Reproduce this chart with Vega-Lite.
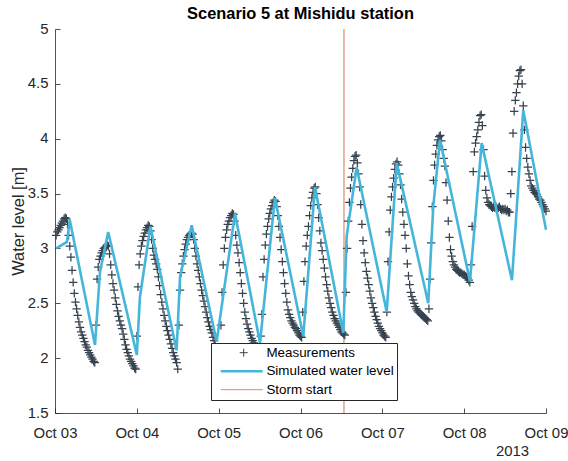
{
"$schema": "https://vega.github.io/schema/vega-lite/v6.json",
"width": 491, "height": 384,
"autosize": {"type": "none"},
"padding": {"left": 55, "top": 29, "right": 22, "bottom": 48},
"background": "white",
"config": {"view": {"stroke": null}, "font": "Liberation Sans"},
"title": {"text": "Scenario 5 at Mishidu station", "fontSize": 16.4, "fontWeight": "bold", "color": "#000000", "font": "Liberation Sans", "offset": -1, "anchor": "middle"},
"datasets": {
"storm": [{"t": "2013-10-06T12:45"}],
"sim": [
{"t":"2013-10-03T00:20","v":3.00},{"t":"2013-10-03T03:30","v":3.06},{"t":"2013-10-03T04:20","v":3.26},{"t":"2013-10-03T11:44","v":2.12},{"t":"2013-10-03T13:10","v":2.78},{"t":"2013-10-03T15:36","v":3.15},
{"t":"2013-10-04T00:00","v":2.03},{"t":"2013-10-04T00:55","v":2.56},{"t":"2013-10-04T04:00","v":3.20},{"t":"2013-10-04T11:40","v":2.07},{"t":"2013-10-04T12:40","v":2.74},{"t":"2013-10-04T16:05","v":3.21},{"t":"2013-10-04T23:25","v":2.15},
{"t":"2013-10-05T04:47","v":3.32},{"t":"2013-10-05T12:07","v":2.14},{"t":"2013-10-05T16:30","v":3.46},
{"t":"2013-10-06T00:49","v":2.20},{"t":"2013-10-06T04:15","v":3.56},{"t":"2013-10-06T12:33","v":2.23},{"t":"2013-10-06T13:32","v":3.11},{"t":"2013-10-06T16:28","v":3.74},
{"t":"2013-10-07T01:17","v":2.42},{"t":"2013-10-07T04:13","v":3.78},{"t":"2013-10-07T13:28","v":2.50},{"t":"2013-10-07T14:56","v":3.38},{"t":"2013-10-07T16:54","v":3.99},
{"t":"2013-10-08T01:42","v":2.70},{"t":"2013-10-08T05:08","v":3.96},{"t":"2013-10-08T14:01","v":2.71},{"t":"2013-10-08T17:20","v":4.26},
{"t":"2013-10-09T00:00","v":3.17}
],
"meas": [
{"t":"2013-10-03T00:20","v":3.12},{"t":"2013-10-03T00:40","v":3.15},
{"t":"2013-10-03T01:00","v":3.17},{"t":"2013-10-03T01:20","v":3.19},{"t":"2013-10-03T01:40","v":3.21},
{"t":"2013-10-03T02:00","v":3.23},{"t":"2013-10-03T02:20","v":3.25},{"t":"2013-10-03T02:40","v":3.27},
{"t":"2013-10-03T03:00","v":3.28},{"t":"2013-10-03T03:20","v":3.27},{"t":"2013-10-03T03:40","v":3.22},
{"t":"2013-10-03T04:00","v":3.12},{"t":"2013-10-03T04:20","v":3.02},{"t":"2013-10-03T04:40","v":2.92},
{"t":"2013-10-03T05:00","v":2.80},{"t":"2013-10-03T05:20","v":2.69},{"t":"2013-10-03T05:40","v":2.59},
{"t":"2013-10-03T06:00","v":2.51},{"t":"2013-10-03T06:20","v":2.45},{"t":"2013-10-03T06:40","v":2.39},
{"t":"2013-10-03T07:00","v":2.33},{"t":"2013-10-03T07:20","v":2.28},{"t":"2013-10-03T07:40","v":2.24},
{"t":"2013-10-03T08:00","v":2.21},{"t":"2013-10-03T08:20","v":2.18},{"t":"2013-10-03T08:40","v":2.15},
{"t":"2013-10-03T09:00","v":2.12},{"t":"2013-10-03T09:20","v":2.10},{"t":"2013-10-03T09:40","v":2.07},
{"t":"2013-10-03T10:00","v":2.05},{"t":"2013-10-03T10:20","v":2.03},{"t":"2013-10-03T10:40","v":2.01},
{"t":"2013-10-03T11:00","v":1.99},{"t":"2013-10-03T11:20","v":1.97},{"t":"2013-10-03T11:40","v":1.96},
{"t":"2013-10-03T12:00","v":2.30},{"t":"2013-10-03T12:20","v":2.72},{"t":"2013-10-03T12:40","v":2.83},
{"t":"2013-10-03T13:00","v":2.90},{"t":"2013-10-03T13:20","v":2.93},{"t":"2013-10-03T13:40","v":2.96},
{"t":"2013-10-03T14:00","v":2.98},{"t":"2013-10-03T14:20","v":3.00},{"t":"2013-10-03T14:40","v":3.01},
{"t":"2013-10-03T15:00","v":3.02},{"t":"2013-10-03T15:20","v":3.03},{"t":"2013-10-03T15:40","v":3.02},
{"t":"2013-10-03T16:00","v":2.95},{"t":"2013-10-03T16:20","v":2.85},{"t":"2013-10-03T16:40","v":2.76},
{"t":"2013-10-03T17:00","v":2.68},{"t":"2013-10-03T17:20","v":2.62},{"t":"2013-10-03T17:40","v":2.55},
{"t":"2013-10-03T18:00","v":2.49},{"t":"2013-10-03T18:20","v":2.43},{"t":"2013-10-03T18:40","v":2.38},
{"t":"2013-10-03T19:00","v":2.34},{"t":"2013-10-03T19:20","v":2.30},{"t":"2013-10-03T19:40","v":2.27},
{"t":"2013-10-03T20:00","v":2.22},{"t":"2013-10-03T20:20","v":2.17},{"t":"2013-10-03T20:40","v":2.12},
{"t":"2013-10-03T21:00","v":2.08},{"t":"2013-10-03T21:20","v":2.05},{"t":"2013-10-03T21:40","v":2.02},
{"t":"2013-10-03T22:00","v":1.99},{"t":"2013-10-03T22:20","v":1.97},{"t":"2013-10-03T22:40","v":1.95},
{"t":"2013-10-03T23:00","v":1.93},{"t":"2013-10-03T23:20","v":1.91},{"t":"2013-10-03T23:40","v":1.90},
{"t":"2013-10-04T00:00","v":2.20},{"t":"2013-10-04T00:20","v":2.65},{"t":"2013-10-04T00:40","v":2.85},
{"t":"2013-10-04T01:00","v":2.95},{"t":"2013-10-04T01:20","v":3.02},{"t":"2013-10-04T01:40","v":3.07},
{"t":"2013-10-04T02:00","v":3.11},{"t":"2013-10-04T02:20","v":3.14},{"t":"2013-10-04T02:40","v":3.17},
{"t":"2013-10-04T03:00","v":3.19},{"t":"2013-10-04T03:20","v":3.21},{"t":"2013-10-04T03:40","v":3.20},
{"t":"2013-10-04T04:00","v":3.16},{"t":"2013-10-04T04:20","v":3.08},{"t":"2013-10-04T04:40","v":3.00},
{"t":"2013-10-04T05:00","v":2.94},{"t":"2013-10-04T05:20","v":2.90},{"t":"2013-10-04T05:40","v":2.86},
{"t":"2013-10-04T06:00","v":2.81},{"t":"2013-10-04T06:20","v":2.74},{"t":"2013-10-04T06:40","v":2.66},
{"t":"2013-10-04T07:00","v":2.58},{"t":"2013-10-04T07:20","v":2.51},{"t":"2013-10-04T07:40","v":2.45},
{"t":"2013-10-04T08:00","v":2.39},{"t":"2013-10-04T08:20","v":2.34},{"t":"2013-10-04T08:40","v":2.29},
{"t":"2013-10-04T09:00","v":2.25},{"t":"2013-10-04T09:20","v":2.21},{"t":"2013-10-04T09:40","v":2.17},
{"t":"2013-10-04T10:00","v":2.13},{"t":"2013-10-04T10:20","v":2.09},{"t":"2013-10-04T10:40","v":2.05},
{"t":"2013-10-04T11:00","v":2.02},{"t":"2013-10-04T11:20","v":1.99},{"t":"2013-10-04T11:40","v":1.96},
{"t":"2013-10-04T12:00","v":1.90},{"t":"2013-10-04T12:20","v":2.30},{"t":"2013-10-04T12:40","v":2.62},
{"t":"2013-10-04T13:00","v":2.78},{"t":"2013-10-04T13:20","v":2.86},{"t":"2013-10-04T13:40","v":2.93},
{"t":"2013-10-04T14:00","v":2.99},{"t":"2013-10-04T14:20","v":3.04},{"t":"2013-10-04T14:40","v":3.08},
{"t":"2013-10-04T15:00","v":3.10},{"t":"2013-10-04T15:20","v":3.12},{"t":"2013-10-04T15:40","v":3.13},
{"t":"2013-10-04T16:00","v":3.14},{"t":"2013-10-04T16:20","v":3.13},{"t":"2013-10-04T16:40","v":3.08},
{"t":"2013-10-04T17:00","v":3.00},{"t":"2013-10-04T17:20","v":2.93},{"t":"2013-10-04T17:40","v":2.86},
{"t":"2013-10-04T18:00","v":2.80},{"t":"2013-10-04T18:20","v":2.74},{"t":"2013-10-04T18:40","v":2.68},
{"t":"2013-10-04T19:00","v":2.62},{"t":"2013-10-04T19:20","v":2.57},{"t":"2013-10-04T19:40","v":2.52},
{"t":"2013-10-04T20:00","v":2.47},{"t":"2013-10-04T20:20","v":2.42},{"t":"2013-10-04T20:40","v":2.37},
{"t":"2013-10-04T21:00","v":2.33},{"t":"2013-10-04T21:20","v":2.29},{"t":"2013-10-04T21:40","v":2.26},
{"t":"2013-10-04T22:00","v":2.23},{"t":"2013-10-04T22:20","v":2.19},{"t":"2013-10-04T22:40","v":2.16},
{"t":"2013-10-04T23:00","v":2.13},{"t":"2013-10-04T23:20","v":2.10},{"t":"2013-10-04T23:40","v":2.07},
{"t":"2013-10-05T00:00","v":2.05},{"t":"2013-10-05T00:20","v":2.03},{"t":"2013-10-05T00:40","v":2.30},
{"t":"2013-10-05T01:00","v":2.60},{"t":"2013-10-05T01:20","v":2.85},{"t":"2013-10-05T01:40","v":3.00},
{"t":"2013-10-05T02:00","v":3.10},{"t":"2013-10-05T02:20","v":3.17},{"t":"2013-10-05T02:40","v":3.22},
{"t":"2013-10-05T03:00","v":3.25},{"t":"2013-10-05T03:20","v":3.28},{"t":"2013-10-05T03:40","v":3.30},
{"t":"2013-10-05T04:00","v":3.32},{"t":"2013-10-05T04:20","v":3.31},{"t":"2013-10-05T04:40","v":3.25},
{"t":"2013-10-05T05:00","v":3.12},{"t":"2013-10-05T05:20","v":3.03},{"t":"2013-10-05T05:40","v":2.96},
{"t":"2013-10-05T06:00","v":2.87},{"t":"2013-10-05T06:20","v":2.78},{"t":"2013-10-05T06:40","v":2.68},
{"t":"2013-10-05T07:00","v":2.59},{"t":"2013-10-05T07:20","v":2.50},{"t":"2013-10-05T07:40","v":2.42},
{"t":"2013-10-05T08:00","v":2.36},{"t":"2013-10-05T08:20","v":2.31},{"t":"2013-10-05T08:40","v":2.27},
{"t":"2013-10-05T09:00","v":2.24},{"t":"2013-10-05T09:20","v":2.21},{"t":"2013-10-05T09:40","v":2.18},
{"t":"2013-10-05T10:00","v":2.16},{"t":"2013-10-05T10:20","v":2.14},{"t":"2013-10-05T10:40","v":2.12},
{"t":"2013-10-05T11:00","v":2.10},{"t":"2013-10-05T11:20","v":2.08},{"t":"2013-10-05T11:40","v":2.07},
{"t":"2013-10-05T12:00","v":2.06},{"t":"2013-10-05T12:20","v":2.20},{"t":"2013-10-05T12:40","v":2.40},
{"t":"2013-10-05T13:00","v":2.74},{"t":"2013-10-05T13:20","v":2.90},{"t":"2013-10-05T13:40","v":3.03},
{"t":"2013-10-05T14:00","v":3.13},{"t":"2013-10-05T14:20","v":3.20},{"t":"2013-10-05T14:40","v":3.27},
{"t":"2013-10-05T15:00","v":3.32},{"t":"2013-10-05T15:20","v":3.36},{"t":"2013-10-05T15:40","v":3.39},
{"t":"2013-10-05T16:00","v":3.42},{"t":"2013-10-05T16:20","v":3.44},{"t":"2013-10-05T16:40","v":3.43},
{"t":"2013-10-05T17:00","v":3.38},{"t":"2013-10-05T17:20","v":3.30},{"t":"2013-10-05T17:40","v":3.20},
{"t":"2013-10-05T18:00","v":3.10},{"t":"2013-10-05T18:20","v":2.99},{"t":"2013-10-05T18:40","v":2.88},
{"t":"2013-10-05T19:00","v":2.78},{"t":"2013-10-05T19:20","v":2.68},{"t":"2013-10-05T19:40","v":2.59},
{"t":"2013-10-05T20:00","v":2.51},{"t":"2013-10-05T20:20","v":2.44},{"t":"2013-10-05T20:40","v":2.40},
{"t":"2013-10-05T21:00","v":2.37},{"t":"2013-10-05T21:20","v":2.34},{"t":"2013-10-05T21:40","v":2.32},
{"t":"2013-10-05T22:00","v":2.30},{"t":"2013-10-05T22:20","v":2.28},{"t":"2013-10-05T22:40","v":2.27},
{"t":"2013-10-05T23:00","v":2.25},{"t":"2013-10-05T23:20","v":2.23},{"t":"2013-10-05T23:40","v":2.21},
{"t":"2013-10-06T00:00","v":2.20},{"t":"2013-10-06T00:20","v":2.19},{"t":"2013-10-06T00:40","v":2.42},
{"t":"2013-10-06T01:00","v":2.70},{"t":"2013-10-06T01:20","v":2.88},{"t":"2013-10-06T01:40","v":3.02},
{"t":"2013-10-06T02:00","v":3.12},{"t":"2013-10-06T02:20","v":3.20},{"t":"2013-10-06T02:40","v":3.30},
{"t":"2013-10-06T03:00","v":3.39},{"t":"2013-10-06T03:20","v":3.46},{"t":"2013-10-06T03:40","v":3.51},
{"t":"2013-10-06T04:00","v":3.55},{"t":"2013-10-06T04:20","v":3.56},{"t":"2013-10-06T04:40","v":3.50},
{"t":"2013-10-06T05:00","v":3.40},{"t":"2013-10-06T05:20","v":3.28},{"t":"2013-10-06T05:40","v":3.16},
{"t":"2013-10-06T06:00","v":3.05},{"t":"2013-10-06T06:20","v":2.98},{"t":"2013-10-06T06:40","v":2.90},
{"t":"2013-10-06T07:00","v":2.82},{"t":"2013-10-06T07:20","v":2.74},{"t":"2013-10-06T07:40","v":2.67},
{"t":"2013-10-06T08:00","v":2.61},{"t":"2013-10-06T08:20","v":2.55},{"t":"2013-10-06T08:40","v":2.50},
{"t":"2013-10-06T09:00","v":2.46},{"t":"2013-10-06T09:20","v":2.42},{"t":"2013-10-06T09:40","v":2.39},
{"t":"2013-10-06T10:00","v":2.36},{"t":"2013-10-06T10:20","v":2.34},{"t":"2013-10-06T10:40","v":2.32},
{"t":"2013-10-06T11:00","v":2.30},{"t":"2013-10-06T11:20","v":2.28},{"t":"2013-10-06T11:40","v":2.26},
{"t":"2013-10-06T12:00","v":2.24},{"t":"2013-10-06T12:20","v":2.23},{"t":"2013-10-06T12:40","v":2.22},
{"t":"2013-10-06T13:00","v":2.21},{"t":"2013-10-06T13:20","v":2.60},{"t":"2013-10-06T13:40","v":3.00},
{"t":"2013-10-06T14:00","v":3.25},{"t":"2013-10-06T14:20","v":3.42},{"t":"2013-10-06T14:40","v":3.55},
{"t":"2013-10-06T15:00","v":3.65},{"t":"2013-10-06T15:20","v":3.73},{"t":"2013-10-06T15:40","v":3.80},
{"t":"2013-10-06T16:00","v":3.84},{"t":"2013-10-06T16:20","v":3.85},{"t":"2013-10-06T16:40","v":3.78},
{"t":"2013-10-06T17:00","v":3.68},{"t":"2013-10-06T17:20","v":3.56},{"t":"2013-10-06T17:40","v":3.40},
{"t":"2013-10-06T18:00","v":3.22},{"t":"2013-10-06T18:20","v":3.07},{"t":"2013-10-06T18:40","v":2.96},
{"t":"2013-10-06T19:00","v":2.87},{"t":"2013-10-06T19:20","v":2.79},{"t":"2013-10-06T19:40","v":2.73},
{"t":"2013-10-06T20:00","v":2.67},{"t":"2013-10-06T20:20","v":2.61},{"t":"2013-10-06T20:40","v":2.55},
{"t":"2013-10-06T21:00","v":2.50},{"t":"2013-10-06T21:20","v":2.46},{"t":"2013-10-06T21:40","v":2.42},
{"t":"2013-10-06T22:00","v":2.38},{"t":"2013-10-06T22:20","v":2.35},{"t":"2013-10-06T22:40","v":2.32},
{"t":"2013-10-06T23:00","v":2.29},{"t":"2013-10-06T23:20","v":2.27},{"t":"2013-10-06T23:40","v":2.25},
{"t":"2013-10-07T00:00","v":2.23},{"t":"2013-10-07T00:20","v":2.21},{"t":"2013-10-07T00:40","v":2.20},
{"t":"2013-10-07T01:00","v":2.19},{"t":"2013-10-07T01:20","v":2.42},{"t":"2013-10-07T01:40","v":2.88},
{"t":"2013-10-07T02:00","v":3.15},{"t":"2013-10-07T02:20","v":3.35},{"t":"2013-10-07T02:40","v":3.47},
{"t":"2013-10-07T03:00","v":3.56},{"t":"2013-10-07T03:20","v":3.64},{"t":"2013-10-07T03:40","v":3.72},
{"t":"2013-10-07T04:00","v":3.77},{"t":"2013-10-07T04:20","v":3.79},{"t":"2013-10-07T04:40","v":3.76},
{"t":"2013-10-07T05:00","v":3.68},{"t":"2013-10-07T05:20","v":3.58},{"t":"2013-10-07T05:40","v":3.45},
{"t":"2013-10-07T06:00","v":3.33},{"t":"2013-10-07T06:20","v":3.22},{"t":"2013-10-07T06:40","v":3.12},
{"t":"2013-10-07T07:00","v":3.00},{"t":"2013-10-07T07:20","v":2.86},{"t":"2013-10-07T07:40","v":2.75},
{"t":"2013-10-07T08:00","v":2.67},{"t":"2013-10-07T08:20","v":2.60},{"t":"2013-10-07T08:40","v":2.56},
{"t":"2013-10-07T09:00","v":2.53},{"t":"2013-10-07T09:20","v":2.50},{"t":"2013-10-07T09:40","v":2.47},
{"t":"2013-10-07T10:00","v":2.45},{"t":"2013-10-07T10:20","v":2.43},{"t":"2013-10-07T10:40","v":2.42},
{"t":"2013-10-07T11:00","v":2.41},{"t":"2013-10-07T11:20","v":2.40},{"t":"2013-10-07T11:40","v":2.39},
{"t":"2013-10-07T12:00","v":2.38},{"t":"2013-10-07T12:20","v":2.37},{"t":"2013-10-07T12:40","v":2.36},
{"t":"2013-10-07T13:00","v":2.35},{"t":"2013-10-07T13:20","v":2.34},{"t":"2013-10-07T13:40","v":2.45},
{"t":"2013-10-07T14:00","v":2.72},{"t":"2013-10-07T14:20","v":3.05},{"t":"2013-10-07T14:40","v":3.38},
{"t":"2013-10-07T15:00","v":3.62},{"t":"2013-10-07T15:20","v":3.76},{"t":"2013-10-07T15:40","v":3.86},
{"t":"2013-10-07T16:00","v":3.94},{"t":"2013-10-07T16:20","v":3.99},{"t":"2013-10-07T16:40","v":4.02},
{"t":"2013-10-07T17:00","v":4.03},{"t":"2013-10-07T17:20","v":3.98},{"t":"2013-10-07T17:40","v":3.90},
{"t":"2013-10-07T18:00","v":3.82},{"t":"2013-10-07T18:20","v":3.75},{"t":"2013-10-07T18:40","v":3.60},
{"t":"2013-10-07T19:00","v":3.44},{"t":"2013-10-07T19:20","v":3.25},{"t":"2013-10-07T19:40","v":3.10},
{"t":"2013-10-07T20:00","v":2.99},{"t":"2013-10-07T20:20","v":2.93},{"t":"2013-10-07T20:40","v":2.88},
{"t":"2013-10-07T21:00","v":2.85},{"t":"2013-10-07T21:20","v":2.83},{"t":"2013-10-07T21:40","v":2.81},
{"t":"2013-10-07T22:00","v":2.80},{"t":"2013-10-07T22:20","v":2.79},{"t":"2013-10-07T22:40","v":2.78},
{"t":"2013-10-07T23:00","v":2.78},{"t":"2013-10-07T23:20","v":2.77},{"t":"2013-10-07T23:40","v":2.76},
{"t":"2013-10-08T00:00","v":2.76},{"t":"2013-10-08T00:20","v":2.75},{"t":"2013-10-08T00:40","v":2.74},
{"t":"2013-10-08T01:00","v":2.73},{"t":"2013-10-08T01:20","v":2.71},{"t":"2013-10-08T01:40","v":2.69},
{"t":"2013-10-08T02:00","v":2.85},{"t":"2013-10-08T02:20","v":3.20},{"t":"2013-10-08T02:40","v":3.70},
{"t":"2013-10-08T03:00","v":3.88},{"t":"2013-10-08T03:20","v":3.96},{"t":"2013-10-08T03:40","v":4.02},
{"t":"2013-10-08T04:00","v":4.08},{"t":"2013-10-08T04:20","v":4.15},{"t":"2013-10-08T04:40","v":4.21},
{"t":"2013-10-08T05:00","v":4.22},{"t":"2013-10-08T05:20","v":4.12},{"t":"2013-10-08T05:40","v":3.90},
{"t":"2013-10-08T06:00","v":3.66},{"t":"2013-10-08T06:20","v":3.53},{"t":"2013-10-08T06:40","v":3.46},
{"t":"2013-10-08T07:00","v":3.42},{"t":"2013-10-08T07:20","v":3.40},{"t":"2013-10-08T07:40","v":3.39},
{"t":"2013-10-08T08:00","v":3.38},{"t":"2013-10-08T08:20","v":3.37},{"t":"2013-10-08T08:40","v":3.38},
{"t":"2013-10-08T09:00","v":3.37},{"t":"2013-10-08T09:20","v":3.38},{"t":"2013-10-08T09:40","v":3.36},
{"t":"2013-10-08T10:00","v":3.37},{"t":"2013-10-08T10:20","v":3.38},{"t":"2013-10-08T10:40","v":3.36},
{"t":"2013-10-08T11:00","v":3.35},{"t":"2013-10-08T11:20","v":3.36},{"t":"2013-10-08T11:40","v":3.35},
{"t":"2013-10-08T12:00","v":3.36},{"t":"2013-10-08T12:20","v":3.34},{"t":"2013-10-08T12:40","v":3.35},
{"t":"2013-10-08T13:00","v":3.33},{"t":"2013-10-08T13:20","v":3.33},{"t":"2013-10-08T13:40","v":3.50},
{"t":"2013-10-08T14:00","v":3.70},{"t":"2013-10-08T14:20","v":4.05},{"t":"2013-10-08T14:40","v":4.25},
{"t":"2013-10-08T15:00","v":4.35},{"t":"2013-10-08T15:20","v":4.42},{"t":"2013-10-08T15:40","v":4.50},
{"t":"2013-10-08T16:00","v":4.57},{"t":"2013-10-08T16:20","v":4.62},{"t":"2013-10-08T16:40","v":4.63},
{"t":"2013-10-08T17:00","v":4.50},{"t":"2013-10-08T17:20","v":4.30},{"t":"2013-10-08T17:40","v":4.08},
{"t":"2013-10-08T18:00","v":3.92},{"t":"2013-10-08T18:20","v":3.82},{"t":"2013-10-08T18:40","v":3.74},
{"t":"2013-10-08T19:00","v":3.68},{"t":"2013-10-08T19:20","v":3.62},{"t":"2013-10-08T19:40","v":3.57},
{"t":"2013-10-08T20:00","v":3.55},{"t":"2013-10-08T20:20","v":3.53},{"t":"2013-10-08T20:40","v":3.51},
{"t":"2013-10-08T21:00","v":3.50},{"t":"2013-10-08T21:20","v":3.49},{"t":"2013-10-08T21:40","v":3.47},
{"t":"2013-10-08T22:00","v":3.45},{"t":"2013-10-08T22:20","v":3.44},{"t":"2013-10-08T22:40","v":3.42},
{"t":"2013-10-08T23:00","v":3.40},{"t":"2013-10-08T23:20","v":3.38},{"t":"2013-10-08T23:40","v":3.36},
{"t":"2013-10-09T00:00","v":3.34}
]
},
"encoding": {
"x": {"field": "t", "type": "temporal",
"scale": {"domain": [{"year": 2013, "month": 10, "date": 3}, {"year": 2013, "month": 10, "date": 9}]},
"axis": {"title": "2013", "format": "%b %d", "tickCount": {"interval": "day", "step": 1}, "grid": false,
"tickSize": -5, "labelPadding": 17, "labelFontSize": 14.9, "labelFont": "Liberation Sans", "labelColor": "#262626",
"labelFlush": false, "labelOverlap": false,
"domainColor": "#262626", "tickColor": "#262626", "domainWidth": 0.8, "tickWidth": 0.8,
"titleFontSize": 14.9, "titleFontWeight": "normal", "titleFont": "Liberation Sans", "titleColor": "#262626",
"titleX": 457, "titleY": 38, "titleAlign": "center", "titleBaseline": "middle", "titleAngle": 0}}
},
"layer": [
{"data": {"name": "storm"}, "mark": {"type": "rule", "strokeWidth": 1.2},
"encoding": {"color": {"datum": "Storm start", "type": "nominal",
"scale": {"domain": ["Measurements", "Simulated water level", "Storm start"], "range": ["#36434F", "#45B6DA", "#D98B6A"]},
"legend": {"title": null, "orient": "none", "legendX": 156, "legendY": 314, "direction": "vertical",
"fillColor": "white", "strokeColor": "#262626", "padding": 3, "rowPadding": 3.5, "cornerRadius": 0,
"labelFontSize": 13.4, "labelFont": "Liberation Sans", "labelColor": "#000000", "symbolSize": 4, "labelOffset": 39,
"encode": {"symbols": {"update": {
"shape": {"signal": "datum.value === 'Measurements' ? 'M19,0H27M23,-4V4' : 'M0,0H42'"},
"strokeWidth": {"signal": "datum.value === 'Simulated water level' ? 2.6 : 1"},
"fill": {"value": "transparent"},
"stroke": {"scale": "color", "field": "value"},
"opacity": {"value": 1}}}}}}}},
{"data": {"name": "meas"}, "mark": {"type": "point", "shape": "M-1,0H1M0,-1V1", "size": 70, "filled": false, "strokeWidth": 1.25, "opacity": 1},
"encoding": {"y": {"field": "v", "type": "quantitative",
"scale": {"domain": [1.5, 5], "nice": false, "zero": false},
"axis": {"title": "Water level [m]", "values": [1.5, 2, 2.5, 3, 3.5, 4, 4.5, 5], "format": "~g", "grid": false,
"tickSize": -5, "labelPadding": 12, "labelFontSize": 14.9, "labelFont": "Liberation Sans", "labelColor": "#262626",
"labelFlush": false, "labelOverlap": false,
"domainColor": "#262626", "tickColor": "#262626", "domainWidth": 0.8, "tickWidth": 0.8,
"titleFontSize": 16.4, "titleFontWeight": "normal", "titleFont": "Liberation Sans", "titleColor": "#262626",
"titleX": -37, "titleY": 192, "titleAlign": "center", "titleBaseline": "middle", "titleAngle": 270}},
"color": {"datum": "Measurements", "type": "nominal"}}},
{"data": {"name": "sim"}, "mark": {"type": "line", "strokeWidth": 2.6},
"encoding": {"y": {"field": "v", "type": "quantitative"},
"color": {"datum": "Simulated water level", "type": "nominal"}}}
]
}
